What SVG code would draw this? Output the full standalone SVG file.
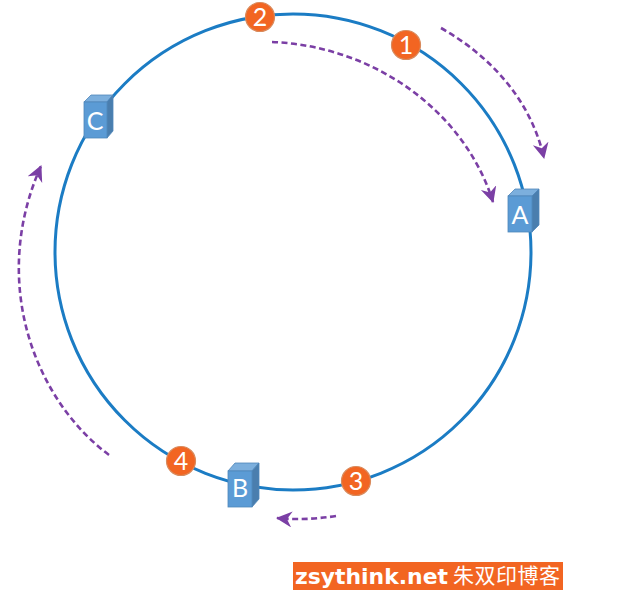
<svg xmlns="http://www.w3.org/2000/svg" width="618" height="594" viewBox="0 0 618 594">
<style>
.ring{fill:none;stroke:#1b7cc4;stroke-width:3}
.flow{fill:none;stroke:#7b3fa5;stroke-width:2.6;stroke-dasharray:6 3.5;marker-end:url(#head)}
.front{fill:#5b9bd5;stroke:#4f87ba;stroke-width:.8}
.top{fill:#7cafdd;stroke:#4f87ba;stroke-width:.8}
.side{fill:#4a7eae;stroke:#4f87ba;stroke-width:.8}
.cube{font:25px Lato,"Liberation Sans",sans-serif;fill:#fff;text-anchor:middle}
.disc{fill:#f26522;stroke:#d98a5c;stroke-width:1.2}
.num{font:25px Lato,"Liberation Sans",sans-serif;fill:#fff;text-anchor:middle}
</style>
<defs>
<marker id="head" markerUnits="userSpaceOnUse" markerWidth="20" markerHeight="20" refX="15" refY="8" orient="auto">
<path d="M0 0L16 8L0 16L5 8Z" fill="#7b3fa5"/>
</marker>
</defs>
<rect width="618" height="594" fill="#fff"/>
<g id="connectors">
<circle class="ring" cx="293" cy="252" r="238"/>
<path class="flow" d="M441 28C492 57 531 101 544 158"/>
<path class="flow" d="M272 42C375 46 465 112 493 202"/>
<path class="flow" d="M336 516C316 519 297 520 277 518"/>
<path class="flow" d="M109 455C33 398 -10 280 41 166"/>
</g>
<g id="node-A">
<path class="top" d="M508 196L515 189H539L532 196Z"/><path class="side" d="M532 196L539 189V225L532 232Z"/><rect class="front" x="508" y="196" width="24" height="36"/>
<text class="cube" x="520" y="224">A</text>
</g>
<g id="node-B">
<path class="top" d="M228 471L235 463H259L252 471Z"/><path class="side" d="M252 471L259 463V499L252 507Z"/><rect class="front" x="228" y="471" width="24" height="36"/>
<text class="cube" x="240" y="497">B</text>
</g>
<g id="node-C">
<path class="top" d="M84 102L91 95H113L107 102Z"/><path class="side" d="M107 102L113 95V131L107 138Z"/><rect class="front" x="84" y="102" width="23" height="36"/>
<text class="cube" x="95" y="130">C</text>
</g>
<g id="key-1"><circle class="disc" cx="406" cy="45" r="14.5"/><text class="num" x="406" y="54">1</text></g>
<g id="key-2"><circle class="disc" cx="260" cy="17" r="14.5"/><text class="num" x="260" y="26">2</text></g>
<g id="key-3"><circle class="disc" cx="356" cy="481" r="14.5"/><text class="num" x="356" y="490">3</text></g>
<g id="key-4"><circle class="disc" cx="181" cy="461" r="14.5"/><text class="num" x="181" y="470">4</text></g>
<g id="watermark">
<rect x="293" y="562" width="270" height="28" fill="#f26522"/>
<text x="295" y="584" font-family="'DejaVu Sans',sans-serif" font-weight="700" font-size="21" fill="#fff" textLength="153" lengthAdjust="spacingAndGlyphs">zsythink.net</text>
<text x="453" y="583" font-family="'Noto Sans CJK SC',sans-serif" font-size="21" fill="#fff" textLength="107">朱双印博客</text>
</g>
</svg>
